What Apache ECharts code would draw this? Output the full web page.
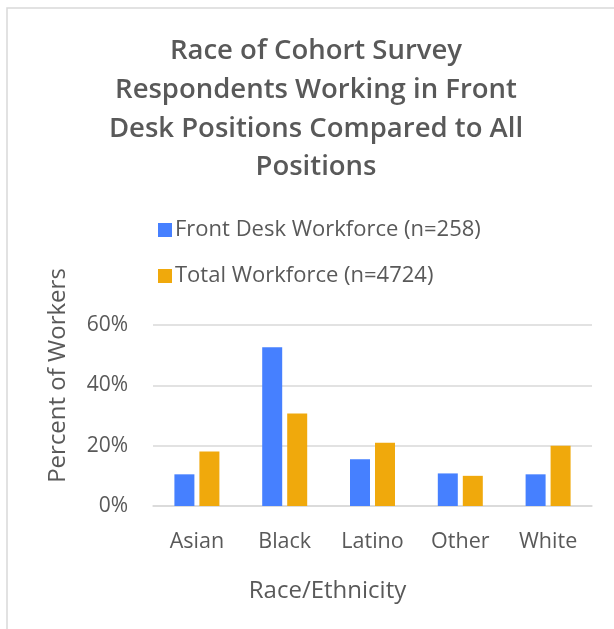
<!DOCTYPE html>
<html>
<head>
<meta charset="utf-8">
<script src="https://cdn.jsdelivr.net/npm/echarts@6/dist/echarts.min.js"></script>
<style>html,body{margin:0;padding:0;background:#fff;}#chart{width:614px;height:629px;}</style>
</head>
<body>
<div id="chart"></div>
<script>
const categories = ['Asian', 'Black', 'Latino', 'Other', 'White'];
const frontDesk = [10.5, 52.6, 15.5, 10.8, 10.5];
const totalWorkforce = [18.1, 30.7, 21.0, 10.0, 20.0];
const seriesNames = ['Front Desk Workforce (n=258)', 'Total Workforce (n=4724)'];
const yTicks = { min: 0, max: 60, interval: 20 };

const FONT = '"Open Sans", "Noto Sans", sans-serif';
const TXT = '#595959';
const chart = echarts.init(document.getElementById('chart'));
chart.setOption({
  animation: false,
  textStyle: { fontFamily: FONT, color: TXT },
  graphic: [{
    type: 'rect', shape: { x: 7, y: 8, width: 700, height: 700 },
    style: { fill: 'none', stroke: '#d9d9d9', lineWidth: 1.5 }, silent: true
  }],
  title: {
    text: 'Race of Cohort Survey\nRespondents Working in Front\nDesk Positions Compared to All\nPositions',
    left: 311, top: 27, textAlign: 'center',
    textStyle: { fontFamily: FONT, fontWeight: 600, fontSize: 27.5, color: TXT, lineHeight: 38.7 }
  },
  legend: {
    orient: 'vertical', left: 153, top: 214, itemWidth: 14, itemHeight: 14, itemGap: 24,
    icon: 'rect',
    textStyle: { fontFamily: FONT, fontSize: 22, color: TXT, padding: [0, 0, 0, -2] },
    data: seriesNames
  },
  grid: { left: 153, right: 22, top: 325, bottom: 123, containLabel: false },
  xAxis: {
    type: 'category', data: categories,
    axisLine: { lineStyle: { color: '#d9d9d9', width: 1.5 } },
    axisTick: { show: false },
    axisLabel: { fontFamily: FONT, fontSize: 21.5, color: TXT, margin: 25 },
    name: 'Race/Ethnicity', nameLocation: 'middle', nameGap: 73,
    nameTextStyle: { fontFamily: FONT, fontSize: 24, color: TXT, padding: [0, 90, 0, 0] }
  },
  yAxis: {
    type: 'value', min: yTicks.min, max: yTicks.max, interval: yTicks.interval,
    axisLabel: { formatter: '{value}%', fontFamily: FONT, fontSize: 21, color: TXT, margin: 25 },
    splitLine: { lineStyle: { color: '#d9d9d9', width: 1.5 } },
    axisLine: { show: false }, axisTick: { show: false },
    name: 'Percent of Workers', nameLocation: 'middle', nameRotate: 90, nameGap: 83,
    nameTextStyle: { fontFamily: FONT, fontSize: 24, color: TXT, padding: [0, 0, 0, 80] }
  },
  series: [
    { name: seriesNames[0], type: 'bar', data: frontDesk, barWidth: 20, barGap: '25%',
      itemStyle: { color: '#4680FF' } },
    { name: seriesNames[1], type: 'bar', data: totalWorkforce, barWidth: 20,
      itemStyle: { color: '#F0A90C' } }
  ]
});
</script>
</body>
</html>
